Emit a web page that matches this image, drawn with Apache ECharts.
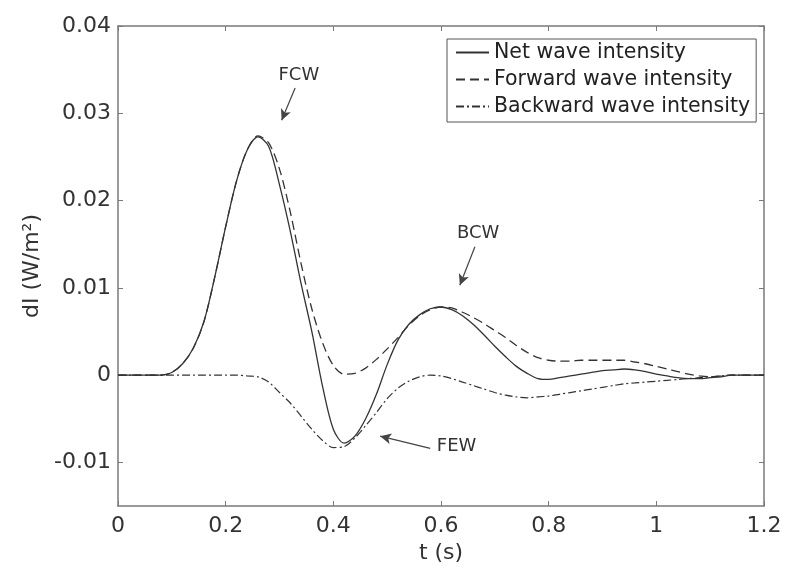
<!DOCTYPE html>
<html>
<head>
<meta charset="utf-8">
<script src="https://cdn.jsdelivr.net/npm/echarts@6/dist/echarts.min.js"></script>
<style>
html,body{margin:0;padding:0;background:#fff;}
#chart{width:800px;height:588px;}
</style>
</head>
<body>
<div id="chart"></div>
<script>
// time values (s)
const tValues = [0,0.02,0.04,0.06,0.08,0.10,0.12,0.14,0.16,0.18,0.20,0.22,0.24,0.26,0.28,0.30,0.32,0.34,0.36,0.38,0.40,0.42,0.44,0.46,0.48,0.50,0.52,0.54,0.56,0.58,0.60,0.62,0.64,0.66,0.68,0.70,0.72,0.74,0.76,0.78,0.80,0.82,0.84,0.86,0.88,0.90,0.92,0.94,0.96,0.98,1.00,1.02,1.04,1.06,1.08,1.10,1.12,1.14,1.16,1.18,1.20];

const netWave = [0,0,0,0,0,0.0003,0.0013,0.0031,0.0062,0.0113,0.0170,0.0222,0.0258,0.0273,0.0262,0.0218,0.0165,0.0105,0.0050,-0.0013,-0.0062,-0.0078,-0.0070,-0.0050,-0.0022,0.0012,0.0040,0.0058,0.0069,0.0076,0.0078,0.0075,0.0068,0.0058,0.0046,0.0033,0.0021,0.0010,0.0002,-0.0004,-0.0005,-0.0003,-0.0001,0.0001,0.0003,0.0005,0.0006,0.0007,0.0006,0.0004,0.0001,-0.0001,-0.0003,-0.0004,-0.0004,-0.0003,-0.0002,0,0,0,0];

const forwardWave = [0,0,0,0,0,0.0003,0.0013,0.0031,0.0062,0.0113,0.0170,0.0222,0.0258,0.0274,0.0266,0.0236,0.0187,0.0128,0.0076,0.0037,0.0011,0.0001,0.0002,0.0008,0.0018,0.0030,0.0043,0.0057,0.0068,0.0075,0.0078,0.0077,0.0072,0.0066,0.0059,0.0051,0.0043,0.0034,0.0026,0.0020,0.0017,0.0016,0.0016,0.0017,0.0017,0.0017,0.0017,0.0017,0.0015,0.0013,0.0010,0.0007,0.0004,0.0001,-0.0001,-0.0002,-0.0001,0,0,0,0];

const backwardWave = [0,0,0,0,0,0,0,0,0,0,0,0,-0.0001,-0.0002,-0.0008,-0.0020,-0.0032,-0.0047,-0.0062,-0.0075,-0.0083,-0.0082,-0.0072,-0.0058,-0.0043,-0.0027,-0.0015,-0.0007,-0.0002,0.0000,-0.0001,-0.0004,-0.0008,-0.0012,-0.0016,-0.0020,-0.0023,-0.0025,-0.0026,-0.0025,-0.0024,-0.0022,-0.0020,-0.0018,-0.0016,-0.0014,-0.0012,-0.0010,-0.0009,-0.0008,-0.0007,-0.0006,-0.0005,-0.0004,-0.0003,-0.0002,-0.0001,0,0,0,0];

const seriesNames = ['Net wave intensity','Forward wave intensity','Backward wave intensity'];
const xTicks = [0,0.2,0.4,0.6,0.8,1,1.2];
const yTicks = [-0.01,0,0.01,0.02,0.03,0.04];

// annotation texts and arrows (data coordinates)
const annLabels = ['FCW','BCW','FEW'];
const annTextPos = [[0.336,0.0344],[0.669,0.0162],[0.629,-0.0082]];
const annArrowFrom = [[0.329,0.0329],[0.663,0.0147],[0.580,-0.0084]];
const annArrowTo = [[0.304,0.0292],[0.635,0.0103],[0.487,-0.0070]];

const FONT = 'DejaVu Sans';
const AXIS_COLOR = '#7a7a7a';
const LINE_COLOR = '#333';

function pairs(ys){ return tValues.map((t,i)=>[t, ys[i]]); }

const axisLineStyle = {show:true, onZero:false, lineStyle:{color:AXIS_COLOR, width:1.5}};
const xTickStyle = {show:true, inside:true, length:5, lineStyle:{color:AXIS_COLOR, width:1}, customValues:xTicks};
const yTickStyle = {show:true, inside:true, length:5, lineStyle:{color:AXIS_COLOR, width:1}, customValues:yTicks};

const chart = echarts.init(document.getElementById('chart'), null, {renderer:'canvas'});
chart.setOption({
  backgroundColor:'#fff',
  animation:false,
  textStyle:{fontFamily:FONT},
  grid:{left:118, right:36, top:26, bottom:82, containLabel:false},
  legend:{
    orient:'vertical', left:447, top:39,
    itemWidth:33, itemHeight:14, itemGap:6,
    padding:[3,6,5,8],
    backgroundColor:'#fff', borderColor:'#555', borderWidth:1, borderRadius:0,
    itemStyle:{opacity:0},
    textStyle:{fontSize:20.5, color:'#222', fontFamily:FONT},
    data:seriesNames
  },
  xAxis:[{
    type:'value', min:0, max:1.2, interval:0.2, position:'bottom',
    axisLine:axisLineStyle, axisTick:xTickStyle, splitLine:{show:false},
    axisLabel:{show:true, fontSize:22, color:'#333', fontFamily:FONT, margin:9, customValues:xTicks,
      formatter:(v)=>String(+(+v).toFixed(1))},
    name:'t (s)', nameLocation:'middle', nameGap:33,
    nameTextStyle:{fontSize:22, color:'#333', fontFamily:FONT}
  },{
    type:'value', min:0, max:1.2, interval:0.2, position:'top',
    axisLine:axisLineStyle, axisTick:xTickStyle, splitLine:{show:false},
    axisLabel:{show:false}
  }],
  yAxis:[{
    type:'value', min:-0.015, max:0.04, position:'left',
    axisLine:axisLineStyle, axisTick:yTickStyle, splitLine:{show:false},
    axisLabel:{show:true, fontSize:22, color:'#333', fontFamily:FONT, margin:7, customValues:yTicks,
      formatter:(v)=>String(+(+v).toFixed(3))},
    name:'dI (W/m²)', nameLocation:'middle', nameGap:74,
    nameTextStyle:{fontSize:22, color:'#333', fontFamily:FONT}
  },{
    type:'value', min:-0.015, max:0.04, position:'right',
    axisLine:axisLineStyle, axisTick:yTickStyle, splitLine:{show:false},
    axisLabel:{show:false}
  }],
  series:[
    {
      name:seriesNames[0], type:'line', data:pairs(netWave),
      symbol:'none', smooth:0.3, z:5,
      lineStyle:{color:LINE_COLOR, width:1.3, type:'solid'},
      itemStyle:{color:LINE_COLOR},
      markLine:{
        silent:true, symbol:['none','arrow'], symbolSize:[8,11],
        label:{show:false},
        lineStyle:{color:'#444', width:1.2, type:'solid'},
        data: annArrowFrom.map((p,i)=>[{coord:p},{coord:annArrowTo[i]}])
      },
      markPoint:{
        silent:true, symbol:'rect', symbolSize:0,
        label:{show:true, position:'inside', formatter:'{b}', fontSize:18, color:'#333', fontFamily:FONT},
        data: annLabels.map((s,i)=>({name:s, coord:annTextPos[i]}))
      }
    },
    {
      name:seriesNames[1], type:'line', data:pairs(forwardWave),
      symbol:'none', smooth:0.3, z:4,
      lineStyle:{color:LINE_COLOR, width:1.3, type:[9,5]},
      itemStyle:{color:LINE_COLOR}
    },
    {
      name:seriesNames[2], type:'line', data:pairs(backwardWave),
      symbol:'none', smooth:0.3, z:3,
      lineStyle:{color:LINE_COLOR, width:1.2, type:[8,3,2,3]},
      itemStyle:{color:LINE_COLOR}
    }
  ]
});
</script>
</body>
</html>
